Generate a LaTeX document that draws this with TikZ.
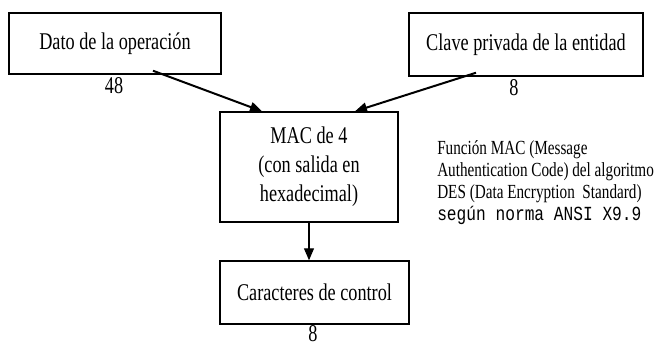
\documentclass[tikz,border=0pt]{standalone}
\usepackage{fontspec}
\setmainfont{Liberation Serif}[FakeStretch=0.76]
\newfontfamily\monotxt{Liberation Mono}[FakeStretch=0.81]
\usetikzlibrary{arrows.meta}
\tikzset{
  caja/.style={draw, line width=1.1pt, inner sep=0pt, align=center,
    font=\fontsize{18}{21.75}\selectfont},
  cifra/.style={inner sep=0pt, font=\fontsize{18}{21.75}\selectfont},
  flecha/.style={line width=1.5pt, -{Triangle[length=9pt,width=7.5pt]}},
  flechafina/.style={line width=0.8pt, -{Triangle[length=9pt,width=7.5pt]}}
}
\begin{document}
\begin{tikzpicture}[x=0.75pt,y=0.75pt,yscale=-1,xscale=1]
			%set diagram left start at 0, and has height of 347
			\useasboundingbox (0,0) rectangle (664,347);

			%Shape: Rectangle [id:dato]
			\node [caja, minimum width=159pt, minimum height=45.75pt] (dato) at (115,43.5) {Dato de la operación};
			%Shape: Rectangle [id:clave]
			\node [caja, minimum width=175.5pt, minimum height=47.25pt] (clave) at (526,44.5) {Clave privada de la entidad};
			%Shape: Rectangle [id:mac]
			\node [caja, minimum width=133.5pt, minimum height=82.5pt] (mac) at (309,167) {MAC de 4\\(con salida en\\hexadecimal)};
			%Shape: Rectangle [id:control]
			\node [caja, minimum width=141.75pt, minimum height=47.25pt] (control) at (314.5,292.5) {Caracteres de control};

			% Longitudes
			\node [cifra] (l48) at (114,86) {48};
			\node [cifra] (l8a) at (514,88) {8};
			\node [cifra] (l8b) at (313,334) {8};

			%Text Node [id:nota] (base = last line)
			\node [anchor=base west, inner sep=0pt, align=left, font=\fontsize{15}{16.5}\selectfont] (nota) at (437,220)
			  {Función MAC (Message\\Authentication Code) del algoritmo\\DES (Data Encryption\ \ Standard)\\{\monotxt según norma ANSI X9.9}};

			%Straight Lines [id:entradas]
			\draw [flecha] ([xshift=28.5pt,yshift=-3pt]dato.south) -- ([xshift=-35.25pt]mac.north);
			\draw [flecha] ([xshift=-37.5pt,yshift=-3pt]clave.south) -- ([xshift=34.5pt]mac.north);
			%Straight Lines [id:salida]
			\draw [flechafina] (mac.south) -- (mac.south |- control.north);
		\end{tikzpicture}
\end{document}
